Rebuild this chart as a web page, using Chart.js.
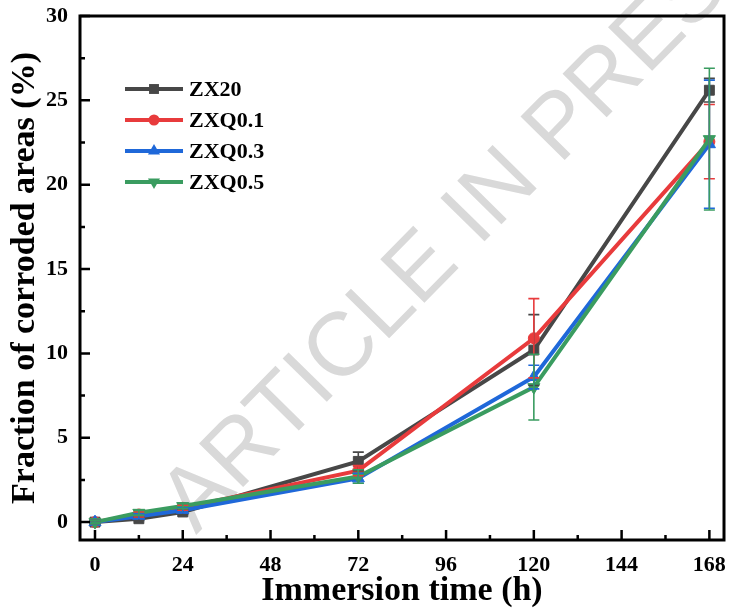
<!doctype html>
<html lang="en">
<head>
<meta charset="utf-8">
<title>Fraction of corroded areas</title>
<style>
  body { margin: 0; background: #fff; overflow: hidden; }
  canvas { display: block; }
</style>
</head>
<body>
<canvas id="areaChart" width="732" height="614"></canvas>

<script src="https://cdn.jsdelivr.net/npm/chart.js"></script>
<script>
    // data
    var times = [0, 12, 24, 72, 120, 168];
    var xTicks = [0, 24, 48, 72, 96, 120, 144, 168];
    var yTicks = [0, 5, 10, 15, 20, 25, 30];
    var seriesNames = ['ZX20', 'ZXQ0.1', 'ZXQ0.3', 'ZXQ0.5'];
    var zx20 = [0, 0.2, 0.6, 3.6, 10.2, 25.6];
    var zxq01 = [0, 0.45, 0.85, 3.05, 10.9, 22.55];
    var zxq03 = [0, 0.35, 0.7, 2.6, 8.6, 22.4];
    var zxq05 = [0, 0.55, 0.95, 2.7, 8.0, 22.7];
    var zx20Err = [0.1, 0.1, 0.15, 0.55, 2.1, 0.7];
    var zxq01Err = [0.1, 0.15, 0.15, 0.3, 2.35, 2.2];
    var zxq03Err = [0.1, 0.15, 0.15, 0.3, 0.7, 3.8];
    var zxq05Err = [0.1, 0.15, 0.15, 0.4, 1.95, 4.2];

    var colors = ['#474747', '#e83b3c', '#1f68d9', '#3a9c60'];
    var styles = [
        { pointStyle: 'rect', radius: 7, rotation: 0 },
        { pointStyle: 'circle', radius: 5.5, rotation: 0 },
        { pointStyle: 'triangle', radius: 7, rotation: 0 },
        { pointStyle: 'triangle', radius: 7, rotation: 180 }
    ];
    var values = [zx20, zxq01, zxq03, zxq05];
    var errors = [zx20Err, zxq01Err, zxq03Err, zxq05Err];

    var serif = '"Liberation Serif", "Times New Roman", serif';

    var datasets = seriesNames.map(function (name, k) {
        return {
            label: name,
            data: times.map(function (t, i) { return { x: t, y: values[k][i] }; }),
            borderColor: colors[k],
            backgroundColor: colors[k],
            borderWidth: 4,
            pointStyle: styles[k].pointStyle,
            pointRadius: styles[k].radius,
            pointRotation: styles[k].rotation,
            pointBorderWidth: 1,
            tension: 0,
            order: 4 - k
        };
    });

    function marker(ctx, style, x, y, color) {
        ctx.save();
        ctx.fillStyle = color;
        ctx.translate(x, y);
        ctx.rotate(style.rotation * Math.PI / 180);
        var r = style.radius;
        ctx.beginPath();
        if (style.pointStyle === 'rect') {
            var s = r * Math.SQRT1_2;
            ctx.rect(-s, -s, 2 * s, 2 * s);
        } else if (style.pointStyle === 'circle') {
            ctx.arc(0, 0, r, 0, Math.PI * 2);
        } else {
            ctx.moveTo(0, -r);
            ctx.lineTo(r * 0.866, r * 0.5);
            ctx.lineTo(-r * 0.866, r * 0.5);
            ctx.closePath();
        }
        ctx.fill();
        ctx.restore();
    }

    var extras = {
        id: 'extras',
        beforeDatasetsDraw: function (chart) {
            var ctx = chart.ctx;
            // watermark
            ctx.save();
            ctx.translate(196, 535);
            ctx.rotate(-45.5 * Math.PI / 180);
            ctx.font = '90px "Liberation Sans", Arial, sans-serif';
            ctx.fillStyle = '#d9d9d9';
            ctx.textBaseline = 'alphabetic';
            ctx.fillText('ARTICLE IN PRESS', 0, 0);
            ctx.restore();
        },
        afterDatasetsDraw: function (chart) {
            var ctx = chart.ctx;
            var xs = chart.scales.x, ys = chart.scales.y;
            var a = chart.chartArea;

            // error bars
            ctx.save();
            values.forEach(function (vals, k) {
                ctx.strokeStyle = colors[k];
                ctx.lineWidth = 1.6;
                vals.forEach(function (v, i) {
                    var px = xs.getPixelForValue(times[i]);
                    var top = ys.getPixelForValue(v + errors[k][i]);
                    var bot = ys.getPixelForValue(v - errors[k][i]);
                    ctx.beginPath();
                    ctx.moveTo(px, top); ctx.lineTo(px, bot);
                    ctx.moveTo(px - 5.5, top); ctx.lineTo(px + 5.5, top);
                    ctx.moveTo(px - 5.5, bot); ctx.lineTo(px + 5.5, bot);
                    ctx.stroke();
                });
            });
            ctx.restore();

            // frame and inward ticks
            ctx.save();
            ctx.strokeStyle = '#000';
            ctx.lineWidth = 3;
            ctx.strokeRect(a.left, a.top, a.right - a.left, a.bottom - a.top);
            ctx.lineWidth = 2.5;
            ctx.beginPath();
            xTicks.forEach(function (t, i) {
                var px = xs.getPixelForValue(t);
                ctx.moveTo(px, a.bottom); ctx.lineTo(px, a.bottom - 10);
                if (i < xTicks.length - 1) {
                    var mx = xs.getPixelForValue(t + 12);
                    ctx.moveTo(mx, a.bottom); ctx.lineTo(mx, a.bottom - 5);
                }
            });
            yTicks.forEach(function (t, i) {
                var py = ys.getPixelForValue(t);
                ctx.moveTo(a.left, py); ctx.lineTo(a.left + 10, py);
                if (i < yTicks.length - 1) {
                    var my = ys.getPixelForValue(t + 2.5);
                    ctx.moveTo(a.left, my); ctx.lineTo(a.left + 5, my);
                }
            });
            ctx.stroke();
            ctx.restore();

            // legend inside the plot
            ctx.save();
            var legendY = [89, 120, 151, 182];
            ctx.font = 'bold 22px ' + serif;
            ctx.textBaseline = 'middle';
            ctx.textAlign = 'left';
            seriesNames.forEach(function (name, k) {
                var y = legendY[k];
                ctx.strokeStyle = colors[k];
                ctx.lineWidth = 4;
                ctx.beginPath();
                ctx.moveTo(125, y); ctx.lineTo(183, y);
                ctx.stroke();
                marker(ctx, styles[k], 154, y, colors[k]);
                ctx.fillStyle = '#000';
                ctx.fillText(name, 189, y + 1);
            });
            ctx.restore();
        }
    };

    var ctx = document.getElementById('areaChart').getContext('2d');
    window.areaChart = new Chart(ctx, {
        type: 'line',
        data: { datasets: datasets },
        plugins: [extras],
        options: {
            responsive: false,
            animation: false,
            devicePixelRatio: 1,
            layout: { padding: { top: 16, right: 4, left: 0, bottom: 0 } },
            plugins: {
                legend: { display: false },
                tooltip: { enabled: false }
            },
            scales: {
                x: {
                    type: 'linear',
                    min: -4.1,
                    max: 172,
                    afterBuildTicks: function (scale) {
                        scale.ticks = xTicks.map(function (v) { return { value: v }; });
                    },
                    afterFit: function (scale) {
                        scale.height = 74;
                        scale.paddingLeft = 0;
                        scale.paddingRight = 0;
                    },
                    grid: { display: false, drawTicks: false },
                    border: { display: false },
                    ticks: {
                        padding: 12,
                        maxRotation: 0,
                        color: '#000',
                        font: { family: serif, size: 22, weight: 'bold' }
                    },
                    title: {
                        display: true,
                        text: 'Immersion time (h)',
                        color: '#000',
                        padding: { top: 0, bottom: 6 },
                        font: { family: serif, size: 34, weight: 'bold', lineHeight: 1 }
                    }
                },
                y: {
                    type: 'linear',
                    min: -1.06,
                    max: 30,
                    afterBuildTicks: function (scale) {
                        scale.ticks = yTicks.map(function (v) { return { value: v }; });
                    },
                    afterFit: function (scale) {
                        scale.width = 80;
                        scale.paddingTop = 0;
                        scale.paddingBottom = 0;
                    },
                    grid: { display: false, drawTicks: false },
                    border: { display: false },
                    ticks: {
                        padding: 12,
                        color: '#000',
                        font: { family: serif, size: 22, weight: 'bold' }
                    },
                    title: {
                        display: true,
                        text: 'Fraction of corroded areas (%)',
                        color: '#000',
                        padding: { top: 8, bottom: 0 },
                        font: { family: serif, size: 34, weight: 'bold', lineHeight: 1 }
                    }
                }
            }
        }
    });
</script>
</body>
</html>
